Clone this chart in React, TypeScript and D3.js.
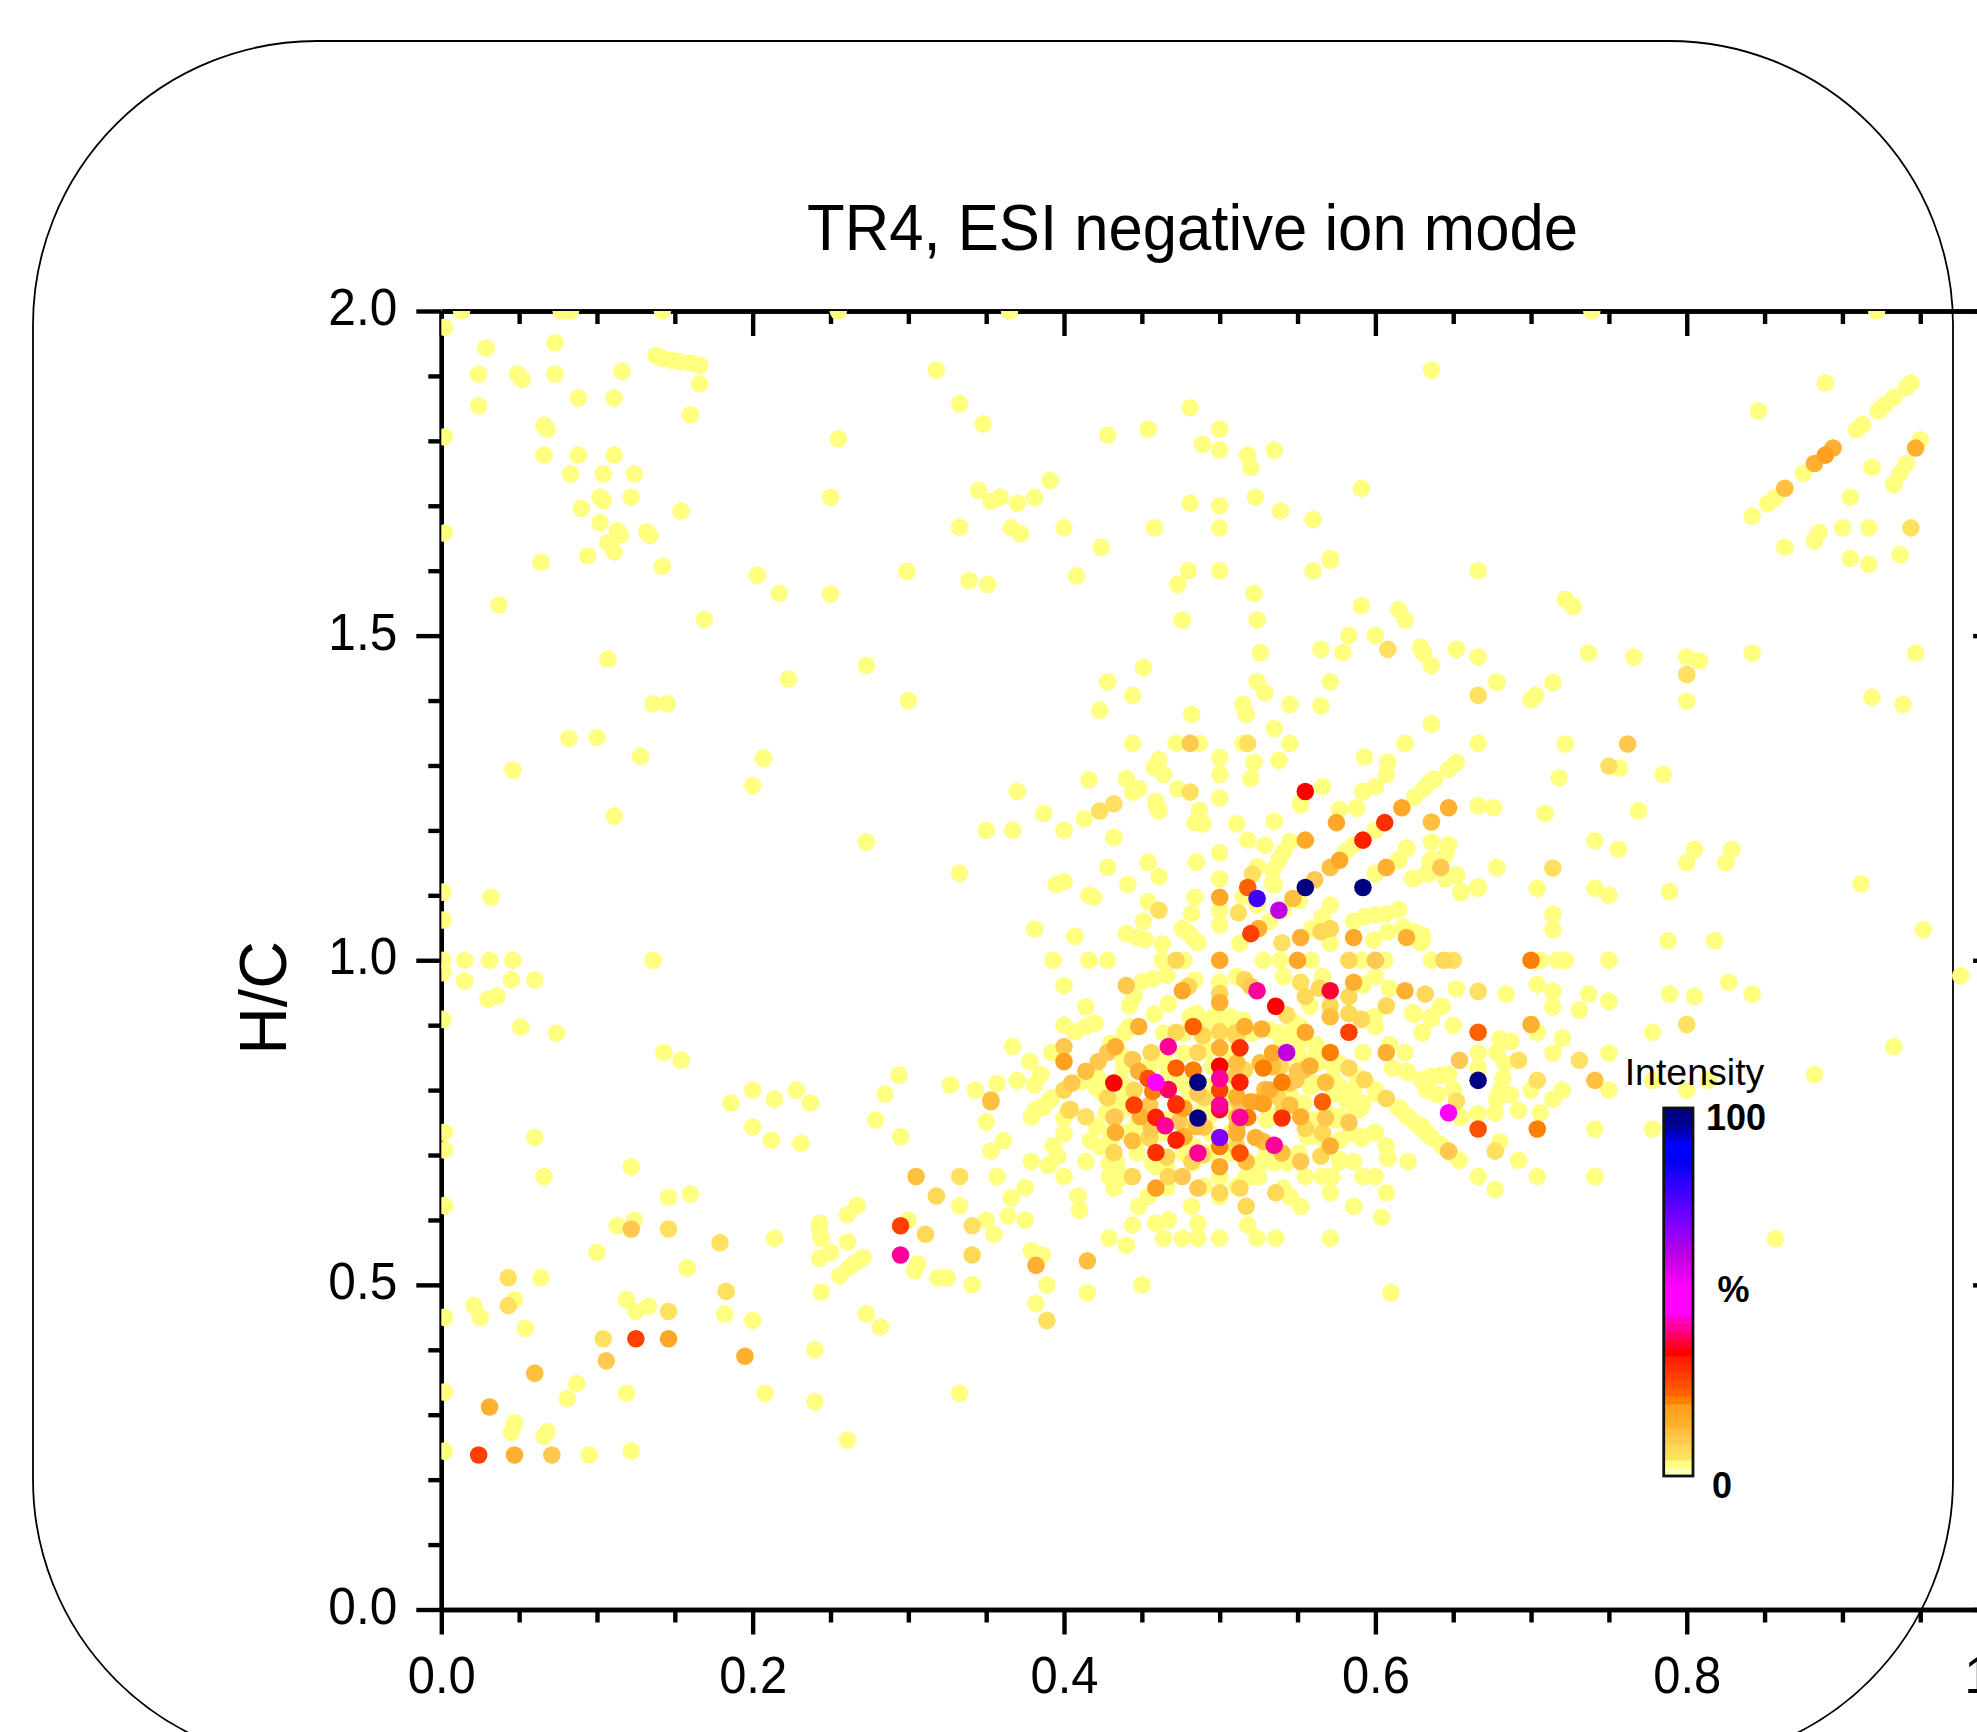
import * as d3 from "d3";
import { useEffect, useRef } from "react";

type Pair = [number, number];

// O/C, H/C, grouped by intensity class
const trace: Pair[] = [
  [.002,1.975],[.013,2],[.077,2],[.083,2],[.142,2],[.255,2],[.365,2],[.739,2],[.922,2],[.0287,1.943],[.073,1.951],[.024,1.903],[.049,1.903],[.052,1.895],[.073,1.903],[.116,1.907],
  [.138,1.931],[.142,1.927],[.148,1.924],[.153,1.922],[.16,1.92],[.166,1.916],[.166,1.888],[.318,1.909],[.088,1.866],[.111,1.866],[.024,1.854],[.16,1.84],[.333,1.857],[.348,1.826],
  [.002,1.806],[.066,1.824],[.068,1.818],[.255,1.803],[.066,1.778],[.088,1.778],[.111,1.778],[.083,1.749],[.104,1.749],[.124,1.749],[.345,1.724],[.353,1.707],[.122,1.713],[.25,1.713],
  [.102,1.713],[.104,1.708],[.09,1.696],[.154,1.692],[.102,1.674],[.113,1.661],[.115,1.655],[.132,1.66],[.134,1.654],[.333,1.667],[.107,1.643],[.111,1.629],[.002,1.658],[.064,1.613],
  [.094,1.623],[.142,1.607],[.203,1.593],[.217,1.565],[.25,1.564],[.299,1.599],[.339,1.585],[.351,1.579],[.037,1.547],[.169,1.525],[.107,1.464],[.273,1.454],[.223,1.433],[.3,1.4],
  [.136,1.395],[.145,1.395],[.082,1.342],[.1,1.343],[.128,1.314],[.207,1.311],[.046,1.293],[.2,1.269],[.111,1.222],[.273,1.182],[.001,1.105],[.032,1.097],[.001,1.062],[.001,1],
  [.015,1],[.031,1],[.046,1],[.136,1],[.001,.981],[.015,.968],[.045,.97],[.06,.97],[.03,.94],[.036,.945],[.001,.909],[.051,.897],[.074,.888],[.143,.858],[.154,.846],[.294,.823],
  [.2,.8],[.228,.8],[.214,.786],[.186,.78],[.237,.78],[.285,.794],[.327,.808],[.002,.735],[.002,.708],[.06,.727],[.066,.667],[.122,.682],[.002,.622],[.146,.635],[.16,.64],[.113,.591],
  [.124,.6],[.1,.55],[.158,.526],[.214,.572],[.064,.511],[.182,.455],[.2,.445],[.021,.468],[.025,.45],[.002,.45],[.047,.477],[.054,.433],[.119,.477],[.125,.459],[.133,.467],[.24,.4],
  [.087,.348],[.081,.325],[.119,.333],[.208,.333],[.24,.32],[.333,.333],[.261,.261],[.047,.287],[.045,.273],[.068,.274],[.066,.267],[.002,.244],[.122,.244],[.095,.238],[.002,.335],
  [.2,.743],[.212,.723],[.231,.718],[.279,.754],[.295,.728],[.35,.751],[.333,.622],[.353,.706],[.357,.667],[.3,.6],[.35,.6],[.355,.578],[.306,.532],[.304,.522],[.319,.511],[.325,.511],
  [.341,.5],[.243,.595],[.243,.585],[.244,.572],[.25,.55],[.243,.541],[.261,.566],[.261,.608],[.267,.622],[.271,.542],[.266,.534],[.262,.527],[.256,.514],[.244,.489],[.273,.455],[.282,.435],
  [.389,.5],[.382,.471],[.379,.553],[.386,.546],[.415,.488],[.45,.5],[.61,.488],[.429,.572],[.44,.561],[.464,.572],[.476,.572],[.486,.572],[.5,.572],[.524,.572],[.536,.572],[.571,.572],
  [.459,.595],[.467,.6],[.486,.595],[.444,.592],[.518,.592],[.604,.604],[.586,.621],[.552,.621],[.482,.621],[.448,.621],[.454,.636],[.41,.615],[.409,.637],[.375,.6],[.364,.606],[.366,.634],
  [.375,.65],[.4,.667],[.432,.649],[.466,.65],[.49,.652],[.5,.636],[.511,.652],[.541,.649],[.545,.636],[.571,.642],[.607,.642],[.555,.667],[.566,.667],[.572,.667],[.592,.667],[.6,.667],
  [.621,.69],[.608,.695],[.607,.714],[.654,.692],[.642,.716],[.636,.727],[.63,.741],[.621,.759],[.615,.772],[.655,.758],[.6,.735],[.591,.726],[.586,.69],[.577,.69],[.5,.666],[.4,.757],
  [.4,.733],[.417,.722],[.393,.714],[.396,.698],[.39,.684],[.379,.69],[.414,.69],[.429,.687],[.429,.667],[.438,.667],[.361,.722],[.379,.759],[.387,.774],[.52,.667],[.525,.667],
  [.387,1.226],[.413,1.218],[.4,1.2],[.35,1.2],[.367,1.2],[.432,1.189],[.333,1.134],[.454,1.151],[.461,1.129],[.441,1.117],[.428,1.143],[.485,1.151],[.459,1.241],[.461,1.23],[.487,1.231],
  [.484,1.212],[.489,1.21],[.511,1.21],[.535,1.214],[.552,1.24],[.577,1.232],[.588,1.234],[.5,1.166],[.518,1.185],[.529,1.177],[.545,1.183],[.541,1.167],[.538,1.154],[.534,1.139],[.524,1.144],
  [.5,1.125],[.535,1.116],[.454,1.09],[.484,1.097],[.482,1.072],[.5,1.077],[.5,1.054],[.515,1.098],[.524,1.085],[.636,1.182],[.62,1.172],[.615,1.154],[.6,1.133],[.624,1.126],[.635,1.152],
  [.532,1.06],[.541,1.078],[.551,1.092],[.513,1.026],[.571,1.085],[.566,1.067],[.586,1.06],[.593,1.067],[.6,1.07],[.607,1.072],[.615,1.078],[.559,1.049],[.571,1.026],[.599,1.031],[.608,1.044],
  [.618,1.049],[.63,1.029],[.63,1.039],[.528,1],[.539,1],[.559,1],[.591,1],[.606,1],[.636,1],[.477,1],[.428,1],[.416,1],[.393,1],[.463,1],[.463,1.025],[.44,1.041],[.447,1.035],[.452,1.032],
  [.451,1.06],[.407,1.037],[.381,1.048],[.395,1.117],[.4,1.121],[.416,1.1],[.419,1.097],[.476,1.049],[.48,1.042],[.483,1.034],[.486,1.027],[.466,.977],[.45,.967],[.457,.972],[.4,.961],[.445,.944],
  [.442,.93],[.5,.966],[.484,.97],[.479,.96],[.467,.933],[.458,.917],[.439,.888],[.414,.928],[.42,.903],[.414,.898],[.407,.89],[.4,.9],[.367,.867],[.378,.844],[.392,.858],[.37,.815],[.385,.824],
  [.381,.808],[.357,.81],[.343,.8],[.387,.775],[.392,.788],[.421,.803],[.54,.877],[.552,.898],[.558,.929],[.511,.975],[.541,.975],[.566,.975],[.592,.962],[.6,.975],[.609,.957],[.642,.929],[.624,.919],
  [.636,.913],[.599,.913],[.6,.898],[.63,.888],[.619,.858],[.592,.858],[.609,.87],[.611,.834],[.62,.829],[.63,.816],[.636,.821],[.642,.823],[.633,.803],[.6,.801],[.586,.801],[.592,.78],[.579,.793],
  [.573,.818],[.616,.772],[.62,.76],[.63,.744],[.485,.918],[.489,.908],[.464,.888],[.477,.857],[.466,.837],[.492,.862],[.477,.811],[.495,.837],[.494,.806],[.504,.898],[.505,.857],[.507,.826],[.515,.908],
  [.521,.888],[.538,.888],[.547,.888],[.541,.847],[.551,.851],[.562,.857],[.573,.836],[.545,.806],[.558,.806],[.573,.795],[.569,.765],[.554,.78],[.545,.795],[.536,.76],[.53,.754],[.442,.795],[.434,.785],
  [.438,.77],[.447,.749],[.44,.734],[.43,.723],[.423,.713],[.43,.688],[.447,.703],[.457,.687],[.466,.682],[.477,.703],[.483,.713],[.49,.703],[.483,.688],[.511,.703],[.524,.667],[.53,.703],[.543,.688],
  [.551,.703],[.556,.729],[.577,.693],[.577,.723],[.575,.754],[.584,.734],[.59,.729],[.59,.77],[.599,.734],[.5,.913],
  [.547,.906],[.562,.87],[.577,.841],[.588,.821],[.601,.795],[.626,.749],[.633,.734],[.391,.785],[.382,.77],[.43,.872],[.442,.898],[.421,.821],[.411,.813],[.464,.852],[.455,.837],[.438,.837],[.436,.857],
  [.477,.888],[.492,.888],[.507,.913],[.507,.888],[.496,.913],[.481,.913],[.532,.893],[.541,.857],[.551,.872],[.562,.841],[.577,.806],[.581,.785],[.587,.77],[.577,.759],[.56,.729],[.569,.713],[.562,.811],
  [.56,.754],[.535,.688],[.526,.688],[.517,.667],[.464,.734],[.459,.682],[.447,.723],[.434,.688],[.43,.734],[.427,.765],[.421,.744],[.44,.806],[.425,.795],[.43,.81],[.436,.816],[.464,.816],[.472,.811],
  [.481,.795],[.466,.754],[.477,.744],[.489,.77],[.494,.76],[.494,.734],[.494,.703],[.507,.77],[.507,.734],[.507,.703],[.494,.785],[.507,.795],
  [.408,1.592],[.48,1.6],[.473,1.579],[.5,1.6],[.56,1.6],[.571,1.616],[.666,1.6],[.522,1.565],[.591,1.546],[.476,1.524],[.524,1.524],[.615,1.54],[.619,1.524],[.583,1.5],[.6,1.5],[.565,1.479],[.579,1.474],
  [.526,1.474],[.629,1.482],[.631,1.473],[.636,1.454],[.652,1.479],[.666,1.467],[.678,1.429],[.451,1.451],[.428,1.429],[.444,1.408],[.423,1.385],[.524,1.429],[.529,1.412],[.571,1.429],[.515,1.394],[.517,1.379],
  [.545,1.394],[.565,1.392],[.482,1.379],[.535,1.357],[.636,1.364],[.444,1.334],[.472,1.334],[.487,1.334],[.515,1.334],[.545,1.334],[.619,1.334],[.666,1.334],[.5,1.312],[.522,1.305],[.538,1.308],[.593,1.313],
  [.608,1.305],[.607,1.286],[.652,1.305],[.647,1.294],[.638,1.279],[.635,1.274],[.631,1.264],[.625,1.251],[.461,1.309],[.458,1.297],[.464,1.286],[.5,1.286],[.52,1.28],[.416,1.278],[.44,1.28],[.448,1.264],
  [.444,1.259],[.473,1.264],[.5,1.25],[.566,1.267],[.552,1.242],[.6,1.267],[.592,1.26],[.588,1.235],[.577,1.232],[.666,1.238],[.676,1.235],[.6,1.2],[.586,1.178],[.581,1.168],[.615,1.155],[.62,1.173],[.647,1.178],
  [.645,1.162],[.636,1.155],[.633,1.134],[.652,1.132],[.645,1.125],[.678,1.143],[.666,1.113],[.655,1.106],[.6,1.134],[.37,1.26],[.459,1.245],[.534,1.119],
  [.636,1.909],[.481,1.851],[.428,1.809],[.454,1.818],[.5,1.818],[.489,1.795],[.5,1.786],[.518,1.778],[.52,1.759],[.535,1.786],[.391,1.739],[.381,1.713],[.37,1.704],[.359,1.713],[.481,1.704],[.5,1.7],[.523,1.713],
  [.539,1.692],[.56,1.679],[.591,1.727],[.366,1.666],[.372,1.657],[.4,1.666],[.458,1.666],[.5,1.666],[.424,1.636],[.571,1.619],[.722,1.556],[.727,1.545],[.846,1.846],[.889,1.889],[.944,1.889],[.941,1.882],
  [.933,1.867],[.927,1.855],[.923,1.846],[.913,1.825],[.909,1.817],[.875,1.75],[.857,1.713],[.852,1.703],[.842,1.684],[.95,1.802],[.941,1.765],[.937,1.75],[.933,1.733],[.919,1.759],[.905,1.713],[.9,1.666],
  [.917,1.666],[.885,1.659],[.882,1.646],[.863,1.636],[.905,1.619],[.917,1.61],[.937,1.625],[.737,1.473],[.766,1.467],[.8,1.467],[.808,1.461],[.842,1.473],[.947,1.473],[.8,1.399],[.678,1.428],[.714,1.428],
  [.7,1.401],[.703,1.408],[.919,1.405],[.939,1.394],[.722,1.333],[.757,1.296],[.785,1.286],[.718,1.281],[.709,1.226],[.769,1.23],[.741,1.184],[.756,1.171],[.805,1.171],[.829,1.171],[.8,1.15],[.825,1.15],
  [.652,1.131],[.634,1.133],[.625,1.126],[.655,1.104],[.666,1.111],[.704,1.111],[.741,1.111],[.75,1.1],[.789,1.106],[.912,1.118],[.714,1.071],[.714,1.047],[.788,1.03],[.818,1.03],[.952,1.047],[.618,1.051],
  [.625,1.044],[.63,1.037],[.629,1.027],[.706,1],[.717,1],[.722,1],[.75,1],[.976,.976],[.652,.956],[.684,.948],[.704,.963],[.714,.952],[.714,.928],[.737,.948],[.75,.937],[.731,.923],[.789,.948],[.805,.944],
  [.827,.966],[.842,.948],[.625,.917],[.636,.91],[.643,.929],[.63,.889],[.65,.9],[.68,.879],[.687,.875],[.704,.889],[.72,.88],[.778,.889],[.933,.867],[.666,.857],[.678,.858],[.683,.841],[.714,.857],[.75,.857],
  [.621,.827],[.63,.815],[.636,.82],[.647,.824],[.666,.834],[.682,.818],[.75,.8],[.72,.8],[.7,.8],[.714,.786],[.778,.815],[.8,.8],[.814,.815],[.882,.824],[.633,.8],[.64,.793],[.65,.801],[.68,.8],[.687,.793],
  [.678,.786],[.655,.758],[.666,.764],[.677,.765],[.692,.769],[.706,.765],[.741,.74],[.778,.74],[.643,.713],[.648,.703],[.68,.72],[.692,.692],[.666,.667],[.704,.667],[.741,.667],[.677,.647],[.857,.571],
];
const faint: Pair[] = [
  [.146,.586],[.043,.511],[.179,.565],[.183,.49],[.043,.468],[.146,.459],[.104,.417],[.333,.667],[.341,.591],[.389,.445],[.414,.759],[.403,.769],[.666,1.408],[.608,1.479],[.944,1.666],[.8,1.44],[.75,1.299],
  [.518,1.334],[.481,1.259],[.521,1.133],[.714,1.142],[.704,.815],[.692,.846],[.731,.846],[.8,.901],[.666,.952],[.65,1],[.543,.916],[.552,.966],[.423,1.23],[.432,1.241],[.461,1.077],[.512,1.073],[.54,1.027],
  [.677,.706],[.652,.783],
];
const pale: Pair[] = [
  [.311,.578],[.318,.637],[.341,.546],[.5,.642],[.513,.649],[.536,.642],[.517,.621],[.444,.667],[.467,.667],[.432,.704],[.455,.726],[.466,.697],[.482,.69],[.472,1],[.583,1],[.571,1.049],[.565,1.044],[.5,.949],
  [.48,.96],[.404,.77],[.4,.8],[.428,.788],[.472,.889],[.489,.884],[.486,.858],[.456,.858],[.49,.788],[.5,.89],[.511,.882],[.516,.831],[.516,.97],[.564,.957],[.555,.944],[.571,.93],[.583,.944],[.583,.918],[.591,.909],
  [.607,.93],[.632,.948],[.583,.834],[.593,.816],[.607,.787],[.555,.741],[.566,.734],[.565,.698],[.644,1],[.445,.8],[.433,.759],[.455,.729],[.489,.7],[.51,.888],[.511,.713],[.539,.836],[.537,.79],[.541,.775],
];
const light: Pair[] = [
  [.122,.586],[.106,.383],[.071,.238],[.432,.758],[.456,.741],[.476,.667],[.486,.649],[.49,.743],[.552,.69],[.583,.75],[.568,.757],[.647,.706],[.762,1.333],[.481,1.334],[.6,1],[.642,1.143],[.422,.844],
  [.405,.811],[.428,.858],[.4,.867],[.444,.847],[.55,.829],[.52,.96],[.44,.961],[.486,.795],[.455,.777],[.512,.782],[.654,.846],[.353,.785],[.561,1.124],[.474,.752],[.51,.821],[.549,.816],[.545,.811],[.554,.831],
];
const gold: Pair[] = [
  [.06,.364],[.305,.667],[.353,.782],[.415,.537],[.444,.722],[.517,.69],[.54,.703],[.528,.721],[.571,1.143],[.636,1.213],[.547,1.095],[.414,.829],[.486,.744],[.477,.729],[.511,.759],[.545,.777],[.568,.812],
  [.571,.913],[.741,.815],[.863,1.727],[.485,.744],[.511,.842],[.511,.744],[.526,.842],[.534,.836],[.529,.801],
];
const amber: Pair[] = [
  [.031,.312],[.047,.238],[.195,.39],[.382,.53],[.433,.735],[.449,.759],[.552,.759],[.571,.714],[.647,1.235],[.607,1.143],[.607,.858],[.525,1.049],[.552,1.035],[.62,1.035],[.619,.953],[.448,.898],[.433,.867],[.5,.935],
  [.5,.865],[.516,.898],[.527,.894],[.558,.837],[.532,.8],[.511,.79],[.448,.829],[.511,.734],[.523,.727],[.477,.728],[.7,.901],[.586,.966],[.882,1.765],[.894,1.789],[.947,1.789],[.525,.782],
];
const orange: Pair[] = [
  [.146,.417],[.5,.682],[.477,.772],[.52,.782],[.534,.857],[.476,.953],[.5,1],[.55,1],[.586,1.035],[.5,1.097],[.555,1.185],[.575,1.212],[.617,1.235],[.577,1.154],[.555,.889],
];
const deepOrange: Pair[] = [[.459,.649],[.4,.844],[.528,.779],[.889,1.778]];
const tangerine: Pair[] = [[.5,.713],[.518,.758],[.457,.798],[.483,.831],[.528,.834],[.54,.812],[.571,.858],[.7,1],[.704,.74]];
const flame: Pair[] = [[.566,.782],[.472,.834],[.483,.898],[.518,1.112],[.666,.889]];
const ember: Pair[] = [[.513,.703],[.454,.818],[.666,.74]];
const vermilion: Pair[] = [[.125,.417],[.024,.238],[.295,.591],[.445,.777],[.52,1.041],[.583,.889],[.5,.8]];
const scarlet: Pair[] = [[.472,.777],[.459,.704],[.54,.757],[.472,.779],[.606,1.212],[.513,.865]];
const redHot: Pair[] = [[.459,.758],[.472,.723],[.513,.812],[.592,1.185]];
const pureRed: Pair[] = [[.555,1.26],[.432,.811],[.536,.929],[.5,.837]];
const crimson: Pair[] = [[.5,.77],[.571,.953]];
const rose: Pair[] = [[.467,.801]];
const fuchsia: Pair[] = [[.295,.546],[.486,.703],[.513,.758],[.535,.715],[.465,.745],[.5,.777],[.5,.818],[.467,.867],[.524,.953]];
const magenta: Pair[] = [[.647,.765],[.459,.812]];
const violet: Pair[] = [[.538,1.077],[.543,.858]];
const purple: Pair[] = [[.5,.727]];
const indigo: Pair[] = [[.524,1.095]];
const navy: Pair[] = [[.486,.812],[.486,.757],[.555,1.112],[.592,1.112],[.666,.815]];

const seriesList: [number, Pair[]][] = [
  [3, trace],[5.5, faint],[7.5, pale],[10, light],[12, gold],[14, amber],[16.5, orange],[18.5, deepOrange],[20.5, tangerine],[23, flame],[25, ember],
  [27, vermilion],[29.5, scarlet],[31.5, redHot],[33.5, pureRed],[36, crimson],[38, rose],[40, fuchsia],[46, magenta],[60, violet],[68, purple],[77, indigo],[99, navy],
];

// colour bands of the legend, bottom to top
const levelColors = [
  "#ffffc0","#ffff80","#ffe060","#ffd858","#ffc850","#ffc040","#ffb030","#ffa828","#ffa020","#ff8000","#ff6000","#ff5000","#ff4000","#ff3000","#ff2000","#ff0000",
  "#ff0030","#ff0060","#ff0098","#ff00c0","#ff00ff","#ff00ff","#ff00ff","#ff00ff","#f000f8","#e000f0","#d000e8","#c000e0","#b000e8","#a000f0","#9000f8","#8000ff",
  "#7000ff","#6000ff","#5000ff","#4000ff","#3000ff","#2000f8","#1000f0","#0000f0","#0000ff","#0000ff","#0000c8","#0000a0","#000088","#000080",
];

const xMajor = [0, 0.2, 0.4, 0.6, 0.8, 1];
const xMinor = [0.05, 0.1, 0.15, 0.25, 0.3, 0.35, 0.45, 0.5, 0.55, 0.65, 0.7, 0.75, 0.85, 0.9, 0.95];
const yMajor = [0, 0.5, 1, 1.5, 2];
const yMinor = [0.1, 0.2, 0.3, 0.4, 0.6, 0.7, 0.8, 0.9, 1.1, 1.2, 1.3, 1.4, 1.6, 1.7, 1.8, 1.9];

const W = 1977;
const H = 1732;
const margin = { left: 441.3, top: 311, right: 1998.1, bottom: 1609.5 };
const fontFamily = "'Liberation Sans', Arial, sans-serif";

const App = () => {
  const axesRef = useRef<SVGGElement>(null);

  const x = d3.scaleLinear().domain([0, 1]).range([margin.left, margin.right]);
  const y = d3.scaleLinear().domain([0, 2]).range([margin.bottom, margin.top]);
  const color = d3.scaleQuantize<string>().domain([0, 100]).range(levelColors);
  const barY = d3.scaleLinear().domain([0, 100]).range([1476, 1108]);
  const bandEdges = [0, ...color.thresholds(), 100];

  useEffect(() => {
    const g = d3.select(axesRef.current);
    g.selectAll("*").remove();
    const fmt = d3.format(".1f");

    const addAxis = (gen: any, tx: number, ty: number, cls: string) => {
      const a = g.append("g").attr("class", cls).attr("transform", `translate(${tx},${ty})`).call(gen);
      a.select(".domain").attr("stroke", "#000").attr("stroke-width", 4.4);
      a.selectAll(".tick line").attr("stroke", "#000").attr("stroke-width", 4.4);
      return a;
    };

    const bottom = addAxis(d3.axisBottom(x).tickValues(xMajor).tickSize(25).tickSizeOuter(0).tickPadding(38).tickFormat((d) => fmt(d as number)), 0, margin.bottom, "x-major");
    bottom.selectAll("text").attr("font-size", 52).attr("font-family", fontFamily).attr("fill", "#000").attr("dy", 0).attr("y", 83)
      .attr("textLength", 68).attr("lengthAdjust", "spacingAndGlyphs");
    addAxis(d3.axisBottom(x).tickValues(xMinor).tickSize(13).tickSizeOuter(0).tickFormat(() => ""), 0, margin.bottom, "x-minor");

    const left = addAxis(d3.axisLeft(y).tickValues(yMajor).tickSize(25).tickSizeOuter(0).tickPadding(19).tickFormat((d) => fmt(d as number)), margin.left, 0, "y-major");
    left.selectAll("text").attr("font-size", 52).attr("font-family", fontFamily).attr("fill", "#000").attr("dy", 13.5)
      .attr("textLength", 69).attr("lengthAdjust", "spacingAndGlyphs");
    addAxis(d3.axisLeft(y).tickValues(yMinor).tickSize(13).tickSizeOuter(0).tickFormat(() => ""), margin.left, 0, "y-minor");

    // top and right frame carry the same ticks, pointing inwards
    addAxis(d3.axisBottom(x).tickValues(xMajor).tickSize(25).tickSizeOuter(0).tickFormat(() => ""), 0, margin.top, "top-major");
    addAxis(d3.axisBottom(x).tickValues(xMinor).tickSize(13).tickSizeOuter(0).tickFormat(() => ""), 0, margin.top, "top-minor");
    addAxis(d3.axisLeft(y).tickValues(yMajor).tickSize(25).tickSizeOuter(0).tickFormat(() => ""), margin.right, 0, "right-major");
    addAxis(d3.axisLeft(y).tickValues(yMinor).tickSize(13).tickSizeOuter(0).tickFormat(() => ""), margin.right, 0, "right-minor");
  }, []);

  return (
    <svg width={W} height={H} style={{ position: "absolute", left: 0, top: 0, display: "block" }} fontFamily={fontFamily}>
      <defs>
        <clipPath id="plot-clip">
          <rect x={margin.left} y={margin.top} width={margin.right - margin.left} height={margin.bottom - margin.top} />
        </clipPath>
      </defs>
      <rect width={W} height={H} fill="#fff" />
      <rect x={33} y={41} width={1920} height={1722.5} rx={284} ry={284} fill="none" stroke="#000" strokeWidth={1.8} />
      <text x={1192.5} y={249.5} fontSize={64} textAnchor="middle" textLength={771} lengthAdjust="spacingAndGlyphs">
        TR4, ESI negative ion mode
      </text>
      <text transform="translate(286,998) rotate(-90)" fontSize={66} textAnchor="middle">H/C</text>
      <g ref={axesRef} />
      <g clipPath="url(#plot-clip)">
        {seriesList.map(([level, pts]) =>
          pts.map((d, i) => <circle key={`${level}-${i}`} cx={x(d[0])} cy={y(d[1])} r={8.8} fill={color(level)} />),
        )}
      </g>
      <g>
        {levelColors.map((c, i) => (
          <rect key={i} x={1664} y={barY(bandEdges[i + 1])} width={29} height={barY(bandEdges[i]) - barY(bandEdges[i + 1]) + 0.5} fill={c} />
        ))}
        <rect x={1663.7} y={1108} width={29.3} height={368} fill="none" stroke="#111" strokeWidth={2.8} />
        <text x={1694.5} y={1085} fontSize={37.5} textAnchor="middle">Intensity</text>
        <text x={1736} y={1130} fontSize={36} fontWeight="bold" textAnchor="middle">100</text>
        <text x={1733.5} y={1302} fontSize={36} fontWeight="bold" textAnchor="middle">%</text>
        <text x={1722} y={1498} fontSize={36} fontWeight="bold" textAnchor="middle">0</text>
      </g>
    </svg>
  );
};

export default App;
